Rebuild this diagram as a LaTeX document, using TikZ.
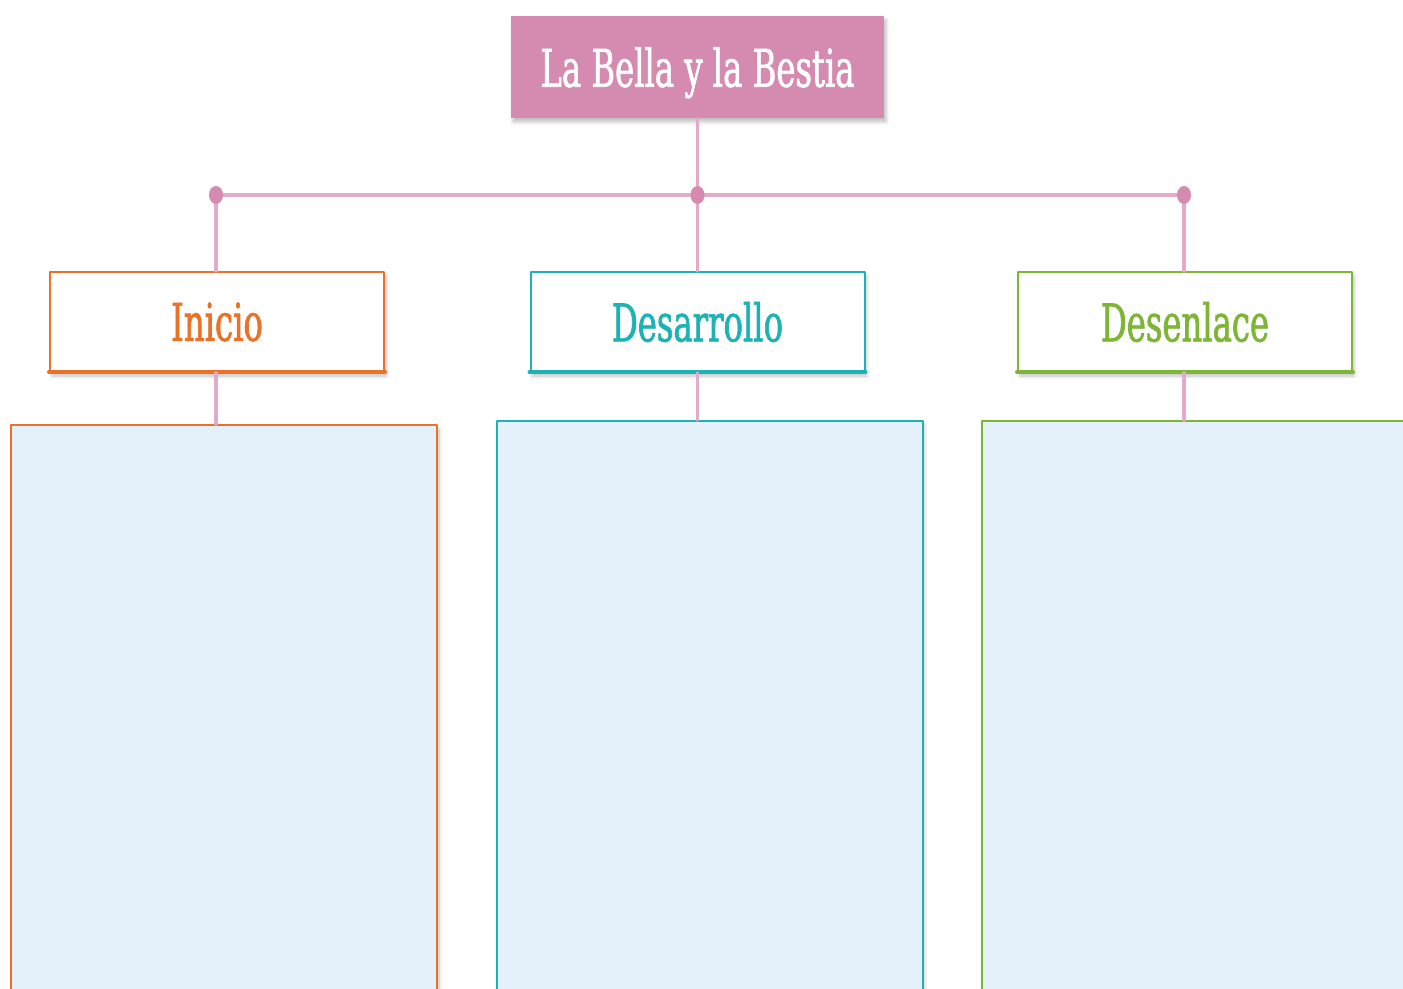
\documentclass[tikz,border=0pt]{standalone}
\usepackage{fontspec}
\newfontfamily\slabfont[FakeStretch=0.69,FakeBold=1.2]{DejaVu Serif Condensed}
\usetikzlibrary{shadows.blur}
\definecolor{rosa}{HTML}{D58AB0}
\definecolor{rosalinea}{HTML}{E3ABCB}
\definecolor{naranja}{HTML}{EA7126}
\definecolor{turquesa}{HTML}{1DB2B4}
\definecolor{verde}{HTML}{7DB535}
\definecolor{celeste}{HTML}{E4F0FA}
\tikzset{
  sombra/.style={blur shadow={shadow blur steps=6,shadow xshift=1pt,shadow yshift=-2pt,shadow opacity=25}},
  titulo/.style={fill=rosa,text=white,minimum width=186.5pt,minimum height=51pt,text depth=0pt,
    font=\slabfont\fontsize{26}{26}\selectfont,sombra},
  cabeza/.style={draw=#1,fill=white,text=#1,line width=1pt,minimum width=167pt,
    minimum height=50pt,font=\slabfont\fontsize{26}{26}\selectfont,sombra},
  cuerpo/.style={draw=#1,fill=celeste,line width=1pt,minimum width=213pt,
    minimum height=290pt,anchor=north,sombra},
  enlace/.style={draw=rosalinea,line width=1.7pt},
  punto/.style={fill=rosa,x radius=3.5pt,y radius=4.5pt}
}
\begin{document}
\begin{tikzpicture}[x=0.5pt,y=-0.5pt,line cap=round,line join=round]
	\useasboundingbox (0,0) rectangle (1403,989);
	\clip (0,0) rectangle (1403,989);
	% boxes
	\node[titulo] (tit) at (697.5,67) {La Bella y la Bestia};
	\node[cuerpo=naranja] (c1) at (224,424) {};
	\node[cuerpo=turquesa] (c2) at (709.5,420) {};
	\node[cuerpo=verde] (c3) at (1195,420) {};
	\node[cabeza=naranja] (ini) at (217,322) {Inicio};
	\node[cabeza=turquesa] (des) at (697.5,322) {Desarrollo};
	\node[cabeza=verde] (fin) at (1185,322) {Desenlace};
	\foreach \n/\c in {ini/naranja,des/turquesa,fin/verde}
		\draw[\c,line width=2pt] ([yshift=0.5pt]\n.south west) -- ([yshift=0.5pt]\n.south east);
	% connectors
	\coordinate (p1) at (216,195);
	\coordinate (p2) at (697.5,195);
	\coordinate (p3) at (1184,195);
	\draw[enlace] (tit.south) -- (p2);
	\draw[enlace] (p1) -- (p3);
	\draw[enlace] (p1) -- (p1 |- ini.north);
	\draw[enlace] (p2) -- (des.north);
	\draw[enlace] (p3) -- (p3 |- fin.north);
	\draw[enlace] (p1 |- ini.south) -- (p1 |- c1.north);
	\draw[enlace] (des.south) -- (des.south |- c2.north);
	\draw[enlace] (p3 |- fin.south) -- (p3 |- c3.north);
	\foreach \p in {p1,p2,p3}
		\fill[punto] (\p) ellipse [];
\end{tikzpicture}
\end{document}
